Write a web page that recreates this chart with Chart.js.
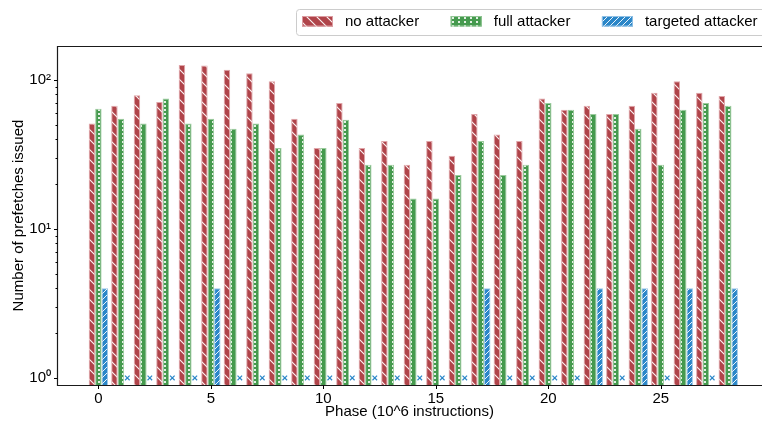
<!DOCTYPE html>
<html>
<head>
<meta charset="utf-8">
<script src="https://cdn.jsdelivr.net/npm/chart.js@4.4.1/dist/chart.umd.min.js"></script>
<style>
  html, body { margin: 0; padding: 0; background: #fff; overflow: hidden; }
  canvas { display: block; }
</style>
</head>
<body>
<canvas id="chart" width="762" height="424"></canvas>
<script>
// Prefetches issued per phase (log scale)
const phases = [0, 1, 2, 3, 4, 5, 6, 7, 8, 9, 10, 11, 12, 13, 14, 15, 16, 17, 18, 19, 20, 21, 22, 23, 24, 25, 26, 27, 28];
const noAttacker = [51, 67, 79, 71, 126, 125, 117, 111, 98, 55, 35, 70, 35, 39, 27, 39, 31, 59, 43, 39, 75, 63, 67, 59, 67, 82, 98, 82, 78];
const fullAttacker = [64, 55, 51, 75, 51, 55, 47, 51, 35, 43, 35, 54, 27, 27, 16, 16, 23, 39, 23, 27, 70, 63, 59, 59, 47, 27, 63, 70, 67];
const targetedAttacker = [4, 0, 0, 0, 0, 4, 0, 0, 0, 0, 0, 0, 0, 0, 0, 0, 0, 4, 0, 0, 0, 0, 4, 0, 4, 0, 4, 0, 4];
const seriesNames = ['no attacker', 'full attacker', 'targeted attacker'];
const xTickValues = [0, 5, 10, 15, 20, 25];
const yTickValues = [1, 2, 3, 4, 5, 6, 7, 8, 9, 10, 20, 30, 40, 50, 60, 70, 80, 90, 100];
const yTickLabels = { 1: '10\u2070', 10: '10\u00B9', 100: '10\u00B2' };

const FONT = '"Liberation Sans", Arial, Helvetica, sans-serif';
const RED = '#b0444a', GREEN = '#459a4e', BLUE = '#2a86c8';

function makeTile(w, h, paint) {
  const c = document.createElement('canvas');
  c.width = w; c.height = h;
  const g = c.getContext('2d');
  paint(g, w, h);
  return document.createElement('canvas').getContext('2d').createPattern(c, 'repeat');
}

// "\" hatch on red
const redPattern = makeTile(10, 10, (g, w, h) => {
  g.fillStyle = RED; g.fillRect(0, 0, w, h);
  g.strokeStyle = 'rgba(255,255,255,0.95)'; g.lineWidth = 1.1;
  g.beginPath();
  g.moveTo(-1, -1); g.lineTo(w + 1, h + 1);
  g.moveTo(-1, h - 1); g.lineTo(1, h + 1);
  g.moveTo(w - 1, -1); g.lineTo(w + 1, 1);
  g.stroke();
});

// white dots on green
const greenPattern = makeTile(6, 4, (g, w, h) => {
  g.fillStyle = GREEN; g.fillRect(0, 0, w, h);
  g.fillStyle = 'rgba(255,255,255,0.85)'; g.fillRect(2, 1, 2, 2);
});

// "/" hatch on blue
const bluePattern = makeTile(6, 6, (g, w, h) => {
  g.fillStyle = BLUE; g.fillRect(0, 0, w, h);
  g.strokeStyle = 'rgba(255,255,255,0.9)'; g.lineWidth = 1;
  g.beginPath();
  g.moveTo(-1, h + 1); g.lineTo(w + 1, -1);
  g.moveTo(-1, 1); g.lineTo(1, -1);
  g.moveTo(w - 1, h + 1); g.lineTo(w + 1, h - 1);
  g.stroke();
});

// axes frame, tick marks, zero markers and legend
const decorations = {
  id: 'decorations',
  afterDatasetsDraw(chart) {
    const ctx = chart.ctx;
    const ys = chart.scales.y;
    const meta = chart.getDatasetMeta(2);
    ctx.save();
    ctx.strokeStyle = BLUE; ctx.lineWidth = 1.2;
    meta.data.forEach((bar, i) => {
      if (targetedAttacker[i] === 0) {
        const cx = bar.x, cy = ys.getPixelForValue(1);
        ctx.beginPath();
        ctx.moveTo(cx - 2.3, cy - 2.3); ctx.lineTo(cx + 2.3, cy + 2.3);
        ctx.moveTo(cx - 2.3, cy + 2.3); ctx.lineTo(cx + 2.3, cy - 2.3);
        ctx.stroke();
      }
    });
    ctx.restore();
  },
  afterDraw(chart) {
    const ctx = chart.ctx;
    const { left, top, right, bottom } = chart.chartArea;
    const xs = chart.scales.x, ys = chart.scales.y;
    ctx.save();
    ctx.strokeStyle = '#1a1a1a'; ctx.lineWidth = 1.2;
    ctx.beginPath();
    ctx.moveTo(right + 2, top + 0.5); ctx.lineTo(left + 0.5, top + 0.5);
    ctx.lineTo(left + 0.5, bottom + 0.5); ctx.lineTo(right + 2, bottom + 0.5);
    ctx.stroke();

    ctx.strokeStyle = '#000'; ctx.lineWidth = 1;
    ctx.beginPath();
    yTickValues.forEach(v => {
      const py = Math.round(ys.getPixelForValue(v)) + 0.5;
      const len = yTickLabels[v] ? 3.5 : 2;
      ctx.moveTo(left + 0.5, py); ctx.lineTo(left + 0.5 - len, py);
    });
    xTickValues.forEach(v => {
      const px = Math.round(xs.getPixelForValue(v)) + 0.5;
      ctx.moveTo(px, bottom + 0.5); ctx.lineTo(px, bottom + 4);
    });
    ctx.stroke();

    // legend
    const lg = { x: 296.5, y: 9.5, h: 26, r: 3 };
    ctx.strokeStyle = '#cccccc'; ctx.lineWidth = 1;
    ctx.beginPath();
    ctx.moveTo(chart.width + 5, lg.y);
    ctx.lineTo(lg.x + lg.r, lg.y);
    ctx.arcTo(lg.x, lg.y, lg.x, lg.y + lg.r, lg.r);
    ctx.lineTo(lg.x, lg.y + lg.h - lg.r);
    ctx.arcTo(lg.x, lg.y + lg.h, lg.x + lg.r, lg.y + lg.h, lg.r);
    ctx.lineTo(chart.width + 5, lg.y + lg.h);
    ctx.stroke();

    ctx.font = '15px ' + FONT;
    ctx.textBaseline = 'middle';
    ctx.textAlign = 'left';
    let x = 302;
    chart.data.datasets.forEach(ds => {
      ctx.fillStyle = ds.backgroundColor;
      ctx.fillRect(x, 16, 31, 10.5);
      ctx.strokeStyle = ds.borderColor; ctx.lineWidth = 1;
      ctx.strokeRect(x + 0.5, 16.5, 30, 9.5);
      ctx.fillStyle = '#000';
      ctx.fillText(ds.label, x + 43, 21.5);
      x += 43 + ctx.measureText(ds.label).width + 31.5;
    });
    ctx.restore();
  }
};

const labelFont = { family: FONT, size: 15 };

new Chart(document.getElementById('chart'), {
  type: 'bar',
  data: {
    labels: phases,
    datasets: [
      { label: seriesNames[0], data: noAttacker, backgroundColor: redPattern, borderColor: 'rgba(222,160,164,0.95)', borderWidth: 1 },
      { label: seriesNames[1], data: fullAttacker, backgroundColor: greenPattern, borderColor: 'rgba(150,200,152,0.95)', borderWidth: 1 },
      { label: seriesNames[2], data: targetedAttacker, backgroundColor: bluePattern, borderColor: 'rgba(150,196,232,0.95)', borderWidth: 1 }
    ]
  },
  options: {
    responsive: false,
    animation: false,
    devicePixelRatio: 1,
    layout: { padding: { top: 46, left: 0, right: 0, bottom: 0 } },
    datasets: { bar: { categoryPercentage: 0.86, barPercentage: 1 } },
    plugins: { legend: { display: false }, tooltip: { enabled: false } },
    scales: {
      x: {
        type: 'linear',
        min: -1.84,
        max: 29.5,
        offset: false,
        afterBuildTicks: s => { s.ticks = xTickValues.map(v => ({ value: v })); },
        afterFit: s => { s.height = 39; },
        grid: { display: true, drawOnChartArea: false, drawTicks: true, tickLength: 4, color: 'transparent' },
        border: { display: false },
        ticks: { font: labelFont, color: '#000', padding: 1, autoSkip: false, maxRotation: 0, callback: v => String(v) },
        title: { display: true, text: 'Phase (10^6 instructions)', font: labelFont, color: '#000', padding: { top: 0, bottom: 3 } }
      },
      y: {
        type: 'logarithmic',
        min: 0.897,
        max: 169,
        afterBuildTicks: s => { s.ticks = yTickValues.map(v => ({ value: v })); },
        afterFit: s => { s.width = 57; },
        grid: { display: true, drawOnChartArea: false, drawTicks: true, tickLength: 4, color: 'transparent' },
        border: { display: false },
        ticks: { font: labelFont, color: '#000', padding: 2, autoSkip: false, callback: v => yTickLabels[v] || '' },
        title: { display: true, text: 'Number of prefetches issued', font: labelFont, color: '#000', padding: { top: 10, bottom: 0 } }
      }
    }
  },
  plugins: [decorations]
});
</script>
</body>
</html>
